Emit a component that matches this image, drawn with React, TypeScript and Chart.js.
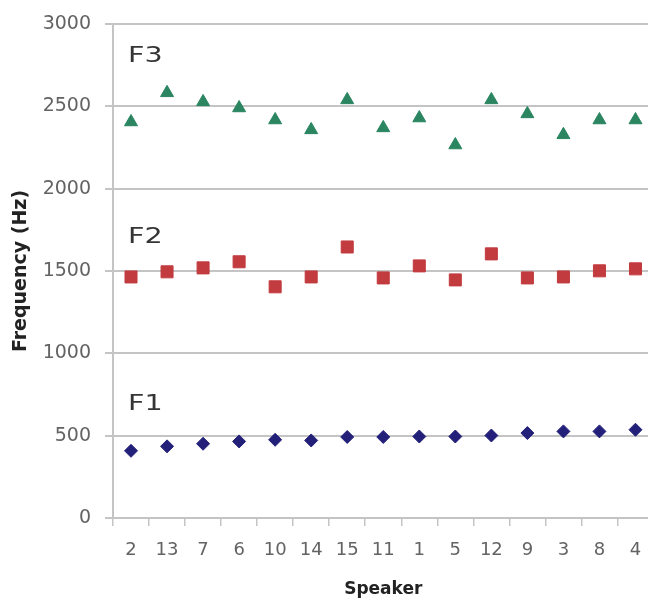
import React, { useEffect, useRef } from 'react';
import { Chart, registerables } from 'chart.js';
Chart.register(...registerables);

const speakers = ['2', '13', '7', '6', '10', '14', '15', '11', '1', '5', '12', '9', '3', '8', '4'];
const f1Values = [408, 435, 451, 465, 475, 471, 492, 492, 495, 495, 501, 516, 526, 526, 536];
const f2Values = [1464, 1495, 1519, 1556, 1404, 1464, 1646, 1458, 1531, 1446, 1604, 1458, 1464, 1501, 1513];
const f3Values = [2405, 2582, 2527, 2490, 2417, 2357, 2539, 2369, 2429, 2265, 2539, 2454, 2327, 2417, 2417];
const seriesNames = ['F1', 'F2', 'F3'];
const seriesLabelValues = [703, 1720, 2818];

const NAVY = '#23207a';
const RED = '#c23b3f';
const GREEN = '#2a8560';
const GRID = '#c4c4c4';
const TICK = '#636363';

const seriesLabelPlugin = {
  id: 'seriesLabels',
  afterDatasetsDraw(chart: any) {
    const { ctx, scales } = chart;
    const size = 22;
    ctx.save();
    ctx.fillStyle = '#353535';
    ctx.font = `${size}px "DejaVu Sans"`;
    ctx.textBaseline = 'alphabetic';
    ctx.textAlign = 'left';
    seriesNames.forEach((name, i) => {
      const y = scales.y.getPixelForValue(seriesLabelValues[i]) + size * 0.365;
      const x = scales.x.getPixelForValue(0) - 3;
      ctx.save();
      ctx.translate(x, y);
      ctx.scale(1.3, 1);
      ctx.fillText(name, 0, 0);
      ctx.restore();
    });
    ctx.restore();
  },
};

const CANVAS_W = 663;
const CANVAS_H = 600;

export default function App() {
  const ref = useRef<HTMLCanvasElement>(null);
  useEffect(() => {
    document.body.style.margin = '0';
    document.body.style.overflow = 'hidden';
    const canvas = ref.current;
    if (!canvas) return;
    const chart = new Chart(canvas, {
      type: 'line',
      data: {
        labels: speakers,
        datasets: [
          {
            label: 'F1',
            data: f1Values,
            showLine: false,
            pointStyle: 'rectRot',
            pointRadius: 6.5,
            pointBackgroundColor: NAVY,
            pointBorderColor: NAVY,
            pointBorderWidth: 1,
            backgroundColor: NAVY,
            borderColor: NAVY,
          },
          {
            label: 'F2',
            data: f2Values,
            showLine: false,
            pointStyle: 'rect',
            pointRadius: 8.5,
            pointBackgroundColor: RED,
            pointBorderColor: RED,
            pointBorderWidth: 1,
            backgroundColor: RED,
            borderColor: RED,
          },
          {
            label: 'F3',
            data: f3Values,
            showLine: false,
            pointStyle: 'triangle',
            pointRadius: 7.5,
            pointBackgroundColor: GREEN,
            pointBorderColor: GREEN,
            pointBorderWidth: 1,
            backgroundColor: GREEN,
            borderColor: GREEN,
          },
        ],
      },
      options: {
        responsive: false,
        animation: false,
        layout: { padding: { top: 24, right: 0, bottom: 0, left: 0 } },
        plugins: { legend: { display: false }, tooltip: { enabled: false } },
        scales: {
          x: {
            type: 'category',
            offset: true,
            afterFit(s: any) {
              s.height = 82;
              s.paddingLeft = 0;
              s.paddingRight = 0;
            },
            grid: {
              display: true,
              drawOnChartArea: false,
              drawTicks: true,
              tickLength: 8,
              offset: true,
              color: GRID,
              lineWidth: 1.5,
            },
            border: { display: true, color: GRID, width: 2 },
            ticks: {
              color: TICK,
              font: { family: 'DejaVu Sans', size: 18 },
              padding: 14,
              maxRotation: 0,
              autoSkip: false,
            },
            title: {
              display: true,
              text: 'Speaker',
              color: '#222222',
              font: { family: 'DejaVu Sans', size: 17, weight: 'bold' },
              padding: { top: 0, bottom: 0 },
            },
          },
          y: {
            min: 0,
            max: 3000,
            afterFit(s: any) {
              s.width = 113;
              s.paddingTop = 0;
              s.paddingBottom = 0;
            },
            ticks: {
              stepSize: 500,
              color: TICK,
              font: { family: 'DejaVu Sans', size: 19 },
              padding: 14,
              callback: (v: any) => String(v),
            },
            grid: { color: GRID, lineWidth: 2, tickLength: 8 },
            border: { display: true, color: GRID, width: 2 },
            title: {
              display: true,
              text: 'Frequency (Hz)',
              color: '#222222',
              font: { family: 'DejaVu Sans', size: 19, weight: 'bold' },
              padding: { top: 10, bottom: 0 },
            },
          },
        },
      },
      plugins: [seriesLabelPlugin],
    });
    return () => chart.destroy();
  }, []);
  return (
    <div style={{ width: 648, height: 600, overflow: 'hidden' }}>
      <canvas
        ref={ref}
        width={CANVAS_W}
        height={CANVAS_H}
        style={{ display: 'block', width: CANVAS_W, height: CANVAS_H }}
      />
    </div>
  );
}
